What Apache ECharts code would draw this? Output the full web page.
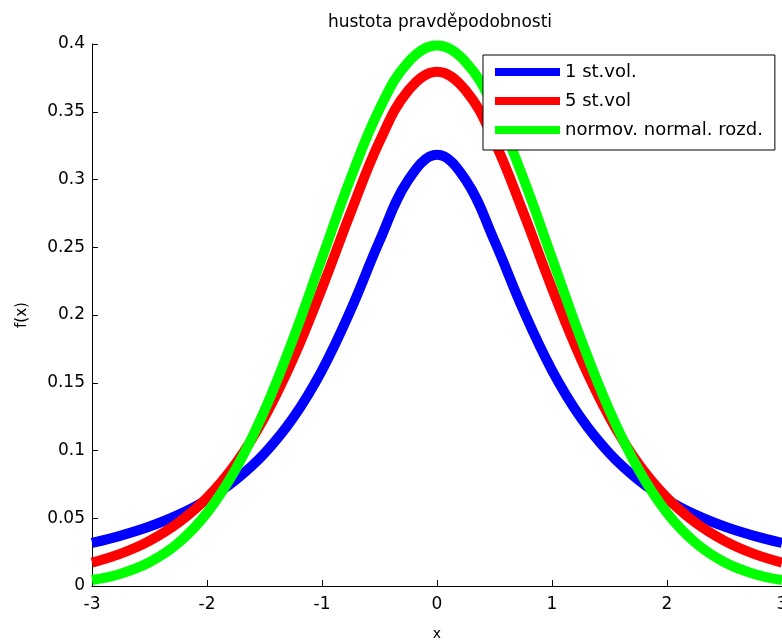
<!DOCTYPE html>
<html>
<head>
<meta charset="utf-8">
<script src="https://cdn.jsdelivr.net/npm/echarts@6/dist/echarts.min.js"></script>
<style>html,body{margin:0;padding:0;background:#fff}#c{width:782px;height:640px}</style>
</head>
<body>
<div id="c"></div>
<script>
const xs = [-3,-2.75,-2.5,-2.25,-2,-1.75,-1.5,-1.25,-1,-0.75,-0.5,-0.25,0,0.25,0.5,0.75,1,1.25,1.5,1.75,2,2.25,2.5,2.75,3];
const t1 = [0.0318,0.0372,0.0439,0.0525,0.0637,0.0784,0.0979,0.1242,0.1592,0.2037,0.2546,0.2996,0.3183,0.2996,0.2546,0.2037,0.1592,0.1242,0.0979,0.0784,0.0637,0.0525,0.0439,0.0372,0.0318];
const t5 = [0.0173,0.0239,0.0333,0.0466,0.0651,0.0905,0.1245,0.1679,0.2197,0.2757,0.3279,0.3657,0.3796,0.3657,0.3279,0.2757,0.2197,0.1679,0.1245,0.0905,0.0651,0.0466,0.0333,0.0239,0.0173];
const norm = [0.0044,0.0091,0.0175,0.0317,0.0540,0.0863,0.1295,0.1826,0.2420,0.3011,0.3521,0.3867,0.3989,0.3867,0.3521,0.3011,0.2420,0.1826,0.1295,0.0863,0.0540,0.0317,0.0175,0.0091,0.0044];
const names = ['1 st.vol.','5 st.vol','normov. normal. rozd.'];
const colors = ['#0000ff','#ff0000','#00ff00'];
const titleText = 'hustota pravděpodobnosti';
const xName = 'x', yName = 'f(x)';

const pair = a => xs.map((x,i)=>[x,a[i]]);
const chart = echarts.init(document.getElementById('c'));
const font = 'DejaVu Sans';
chart.setOption({
  animation:false,
  backgroundColor:'#fff',
  title:{text:titleText,left:435,textAlign:'center',top:9,textStyle:{fontFamily:font,fontSize:17,fontWeight:'normal',color:'#000'}},
  grid:{left:92,right:0,top:44,bottom:54,containLabel:false,outerBoundsMode:'none'},
  legend:{
    left:483,top:55,orient:'vertical',
    backgroundColor:'#fff',borderColor:'#000',borderWidth:1,borderRadius:0,
    padding:[7,12,10,12],itemGap:9,itemWidth:65,itemHeight:8,icon:'rect',
    textStyle:{fontFamily:font,fontSize:18,color:'#000',lineHeight:20},
    data:names
  },
  xAxis:{type:'value',min:-3,max:3,interval:1,name:xName,nameLocation:'middle',nameGap:41,
    nameTextStyle:{fontFamily:font,fontSize:14,color:'#000'},
    axisLine:{onZero:false,lineStyle:{color:'#000',width:1}},
    axisTick:{inside:true,length:6,lineStyle:{color:'#000'}},
    axisLabel:{fontFamily:font,fontSize:17,color:'#000',margin:10,showMaxLabel:true},
    splitLine:{show:false}},
  yAxis:{type:'value',min:0,max:0.4,interval:0.05,name:yName,nameLocation:'middle',nameGap:62,nameRotate:90,
    nameTextStyle:{fontFamily:font,fontSize:15,color:'#000'},
    axisLine:{show:true,onZero:false,lineStyle:{color:'#000',width:1}},
    axisTick:{show:true,inside:true,length:6,lineStyle:{color:'#000'}},
    axisLabel:{fontFamily:font,fontSize:17,color:'#000',margin:7},
    splitLine:{show:false}},
  series:[t1,t5,norm].map((d,i)=>({
    name:names[i],type:'line',data:pair(d),smooth:0.4,showSymbol:false,
    lineStyle:{color:colors[i],width:10},itemStyle:{color:colors[i]},clip:true
  }))
});
</script>
</body>
</html>
